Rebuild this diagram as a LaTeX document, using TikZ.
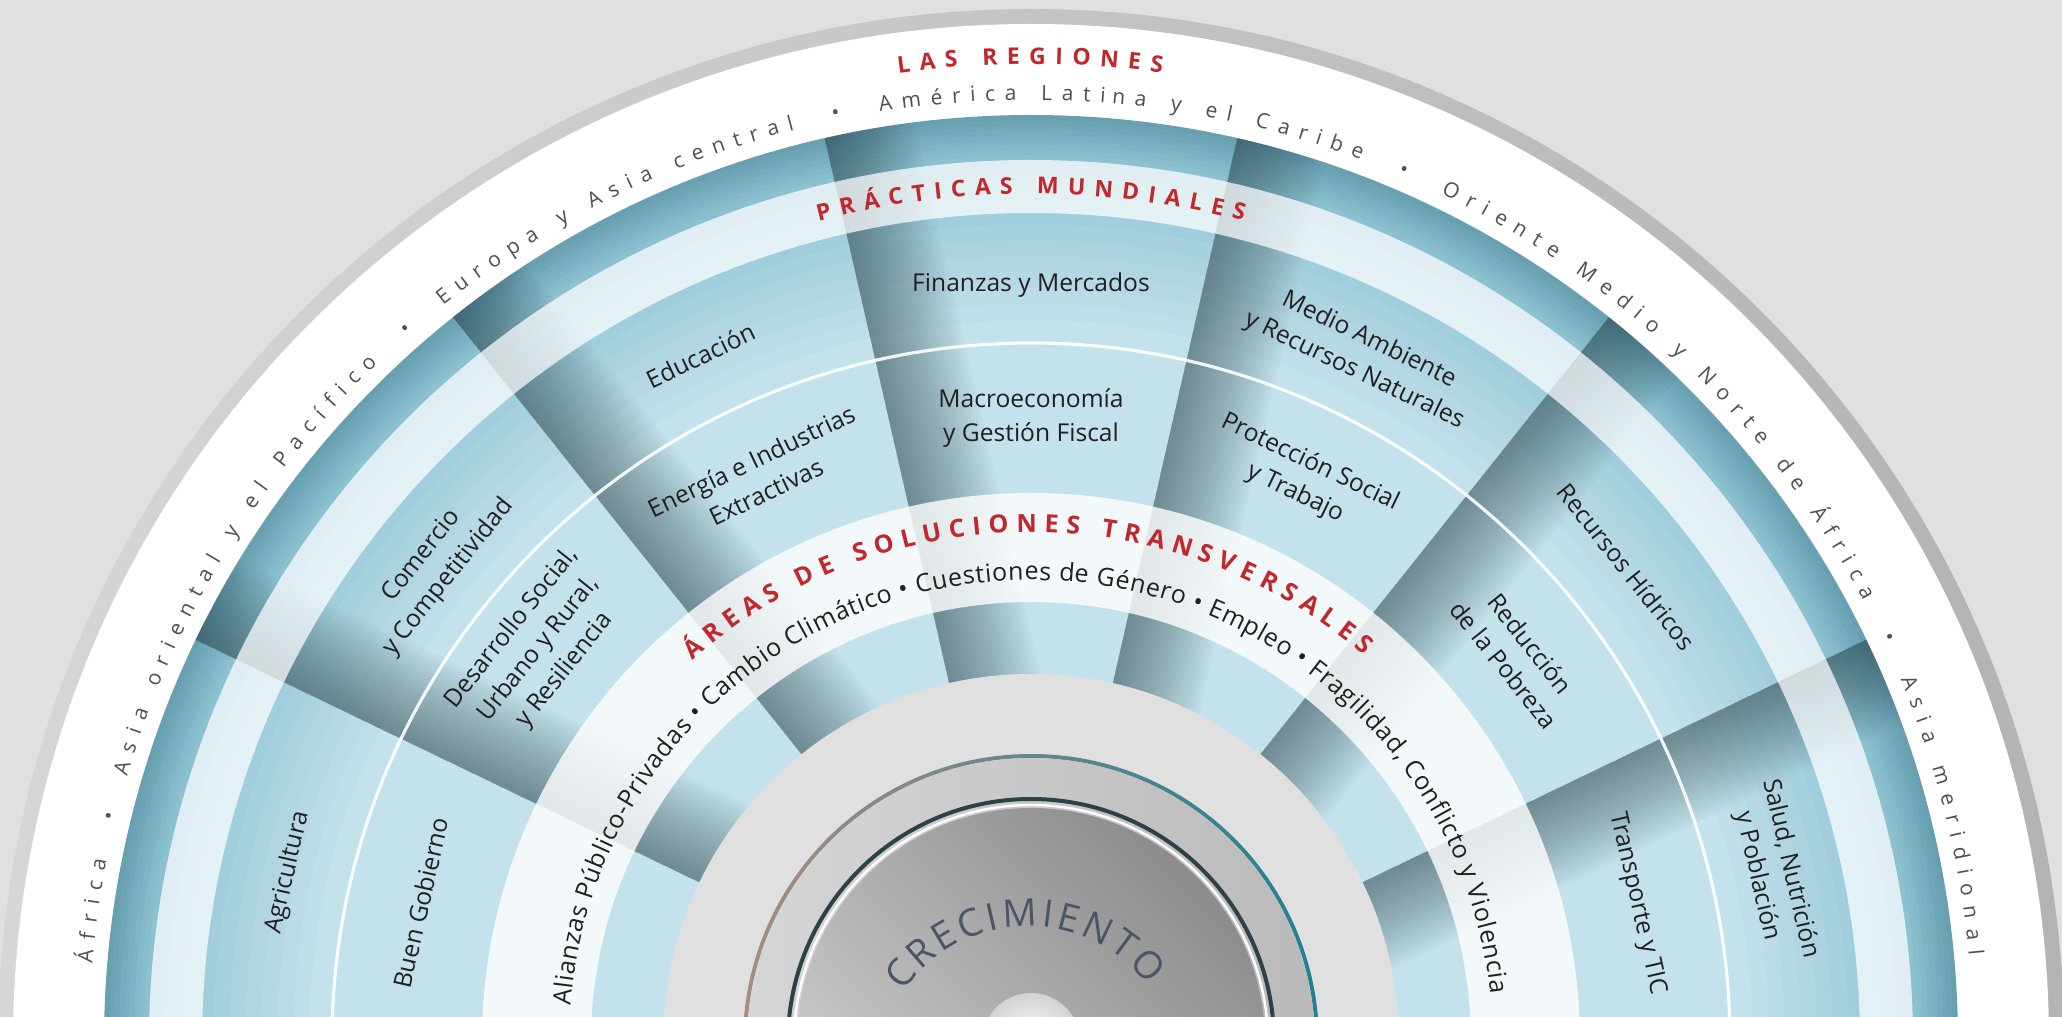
\documentclass[tikz,border=0pt]{standalone}
\usepackage{fontspec}
\setmainfont{Open Sans}
\usetikzlibrary{decorations.text}

\definecolor{bggray}{HTML}{E0E0E0}
\definecolor{ringlight}{HTML}{D6D6D6}
\definecolor{ringdark}{HTML}{B3B3B3}
\definecolor{bandedge}{HTML}{689FB1}
\definecolor{bandblue}{HTML}{8CC1D0}
\definecolor{deepblue}{HTML}{93C5D5}
\definecolor{rowblue}{HTML}{C3E2EB}
\definecolor{shadow}{HTML}{2A424A}
\definecolor{wbred}{HTML}{C1272D}
\definecolor{labtext}{HTML}{231F20}
\definecolor{regtext}{HTML}{505050}
\definecolor{rimbrown}{HTML}{A88C80}
\definecolor{rimteal}{HTML}{1E8196}
\definecolor{dialmid}{HTML}{BABABA}
\definecolor{diallight}{HTML}{D6D6D6}
\definecolor{dialdark}{HTML}{2C4247}
\definecolor{facelight}{HTML}{D2D2D2}
\definecolor{facedark}{HTML}{8C8C8C}
\definecolor{slate}{HTML}{4A5667}

\begin{document}
\begin{tikzpicture}[scale=1.7573,
    lab/.style={font=\fontsize{12.3}{17}\selectfont, text=labtext, align=center, inner sep=0pt},
    paleband/.style={fill=white, fill opacity=#1, even odd rule},
    arctext/.style={decorate, decoration={text along path, text align={#1}}}]
  \useasboundingbox (-10.31,0.26) rectangle (10.31,10.42);
  \clip (-10.31,0.26) rectangle (10.31,10.42);
  \fill[bggray] (-10.31,0.26) rectangle (10.31,10.42);

  \shade[left color=ringlight, right color=ringdark] (0,0) circle[radius=10.33];
  \fill[white] (0,0) circle[radius=10.18];
  \foreach \k [evaluate=\k as \r using 9.27-0.05*\k, evaluate=\k as \p using 100-12.5*\k] in {0,...,8}
    \fill[bandedge!\p!bandblue] (0,0) circle[radius=\r];
  \foreach \k [evaluate=\k as \r using 8.82-0.16*\k, evaluate=\k as \p using 100-10*\k] in {0,...,10}
    \fill[deepblue!\p!rowblue] (0,0) circle[radius=\r];

  \foreach \i in {1,...,6} {
    \pgfmathsetmacro\a{\i*180/7}
    \pgfmathsetmacro\b{\a-180/7}
    \begin{scope}
      \clip (\b:3.68) -- (\b:9.27) arc[start angle=\b, end angle=\a, radius=9.27]
        -- (\a:3.68) arc[start angle=\a, end angle=\b, radius=3.68] -- cycle;
      \foreach \k in {1,...,24}
        \fill[shadow, fill opacity=0.029, rotate=\a] (0,0) -- (10,0) -- (10,-0.038*\k) -- (0,-0.038*\k) -- cycle;
    \end{scope}
  }

  \fill[paleband=0.72] (0,0) circle[radius=8.82] (0,0) circle[radius=8.29];
  \fill[paleband=0.8] (0,0) circle[radius=5.49] (0,0) circle[radius=4.40];
  \draw[white, line width=1.6pt, opacity=0.9] (0,0) circle[radius=6.99];

  \fill[bggray] (0,0) circle[radius=3.68];
  \shade[even odd rule, left color=rimbrown, right color=rimteal] (0,0) circle[radius=2.88] (0,0) circle[radius=2.84];
  \shade[left color=diallight, right color=dialmid] (0,0) circle[radius=2.84];
  \draw[dialdark, line width=2pt] (0,0) circle[radius=2.43];
  \draw[white, line width=1.2pt] (0,0) circle[radius=2.37];
  \shade[top color=facedark, bottom color=facelight, shading angle=-45] (0,0) circle[radius=2.34];
  \shade[inner color=white, outer color=facelight] (0,0) circle[radius=0.49];

  \node[lab, rotate=77.14] (agri) at (167.14:7.62) {Agricultura};
  \node[lab, rotate=51.43] (comercio) at (141.43:7.62) {Comercio\\y Competitividad};
  \node[lab, rotate=25.71] (educ) at (115.71:7.62) {Educación};
  \node[lab] (finanzas) at (90:7.57) {Finanzas y Mercados};
  \node[lab, rotate=-25.71] (medio) at (64.29:7.62) {Medio Ambiente\\y Recursos Naturales};
  \node[lab, rotate=-51.43] (hidricos) at (38.57:7.62) {Recursos Hídricos};
  \node[lab, rotate=-77.14] (salud) at (12.86:7.62) {Salud, Nutrición\\y Población};

  \node[lab, rotate=77.14] (gobierno) at (167.14:6.26) {Buen Gobierno};
  \node[lab, rotate=51.43] (desarrollo) at (141.43:6.30) {Desarrollo Social,\\Urbano y Rural,\\y Resiliencia};
  \node[lab, rotate=25.71] (energia) at (115.71:6.28) {Energía e Industrias\\Extractivas};
  \node[lab] (macro) at (90:6.24) {Macroeconomía\\y Gestión Fiscal};
  \node[lab, rotate=-25.71] (proteccion) at (64.29:6.26) {Protección Social\\y Trabajo};
  \node[lab, rotate=-51.43] (pobreza) at (38.57:6.22) {Reducción\\de la Pobreza};
  \node[lab, rotate=-77.14] (transporte) at (12.86:6.22) {Transporte y TIC};

  \path[arctext=fit to path, decoration={text color=wbred,
      text={|\bfseries\fontsize{11.5}{13}\selectfont|LAS REGIONES}}]
    (97.8:9.78) arc[start angle=97.8, end angle=82.3, radius=9.78];
  \path[arctext=fit to path, decoration={text color=regtext,
      text={|\fontsize{10.5}{12}\selectfont|África {\ }•{\ } Asia oriental y el Pacífico {\ }•{\ } Europa y Asia central {\ }•{\ } América Latina y el Caribe {\ }•{\ } Oriente Medio y Norte de África {\ }•{\ } Asia meridional}}]
    (175.2:9.42) arc[start angle=175.2, end angle=5.4, radius=9.42];
  \path[arctext=fit to path, decoration={text color=wbred,
      text={|\bfseries\fontsize{11.5}{13}\selectfont|PRÁCTICAS MUNDIALES}}]
    (104.5:8.48) arc[start angle=104.5, end angle=75.5, radius=8.48];
  \path[arctext=fit to path, decoration={text color=wbred,
      text={|\bfseries\fontsize{12.5}{14}\selectfont|ÁREAS DE SOLUCIONES TRANSVERSALES}}]
    (131.6:5.10) arc[start angle=131.6, end angle=49.3, radius=5.10];
  \path[arctext=fit to path, decoration={text color=labtext,
      text={|\fontsize{12.5}{14}\selectfont|Alianzas Público-Privadas • Cambio Climático • Cuestiones de Género • Empleo • Fragilidad, Conflicto y Violencia}}]
    (175.5:4.62) arc[start angle=175.5, end angle=6, radius=4.62];
  \path[arctext=fit to path, decoration={text color=slate,
      text={|\fontsize{19}{21}\selectfont|CRECIMIENTO}}]
    (-0.03,-0.34) ++(146:1.50) arc[start angle=146, end angle=37, radius=1.50];
\end{tikzpicture}
\end{document}
